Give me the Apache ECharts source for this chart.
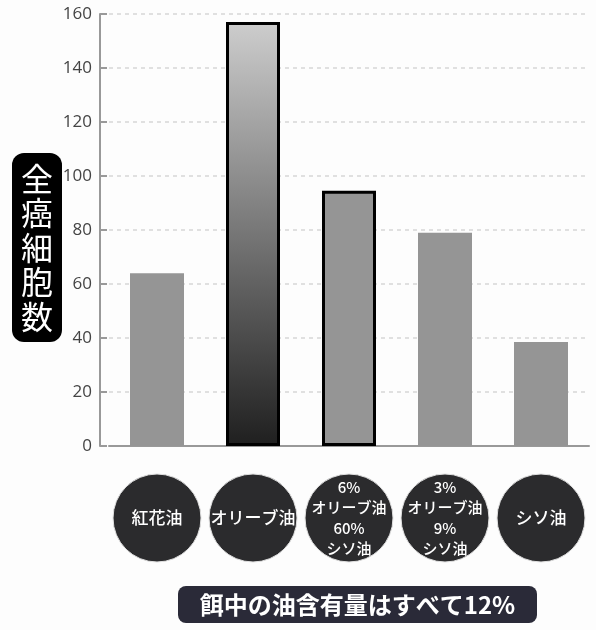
<!DOCTYPE html>
<html><head><meta charset="utf-8">
<script src="https://cdn.jsdelivr.net/npm/echarts@6/dist/echarts.min.js"></script>
<style>html,body{margin:0;padding:0;background:#fff}#c{width:596px;height:630px}</style>
</head><body><div id="c"></div>
<script>
const categories = ['紅花油', 'オリーブ油', '6%\nオリーブ油\n60%\nシソ油', '3%\nオリーブ油\n9%\nシソ油', 'シソ油'];
const cellCounts = [64, 157, 94.5, 79, 38.5];
const yTicks = { min: 0, max: 160, interval: 20 };
const yTitle = '全\n癌\n細\n胞\n数';
const footnote = '餌中の油含有量はすべて12%';

const chart = echarts.init(document.getElementById('c'));
const barStyles = [
  { color: '#959595' },
  { color: new echarts.graphic.LinearGradient(0, 0, 0, 1, [{ offset: 0, color: '#cdcdcd' }, { offset: 1, color: '#1f1f1f' }]), borderColor: '#000', borderWidth: 3 },
  { color: '#959595', borderColor: '#000', borderWidth: 3 },
  { color: '#959595' },
  { color: '#959595' }
];
const font = '"Noto Sans CJK JP", "Noto Sans", sans-serif';
chart.setOption({
  backgroundColor: '#fdfdfd',
  animation: false,
  grid: [
    { left: 109, right: 7, top: 14, bottom: 184 },
    { left: 109, right: 7, top: 460, height: 116 }
  ],
  xAxis: [
    { type: 'category', data: categories, gridIndex: 0,
      axisLine: { lineStyle: { color: '#999', width: 2 } }, axisTick: { show: false }, axisLabel: { show: false } },
    { type: 'category', data: categories, gridIndex: 1, show: false }
  ],
  yAxis: [
    { type: 'value', gridIndex: 0, min: yTicks.min, max: yTicks.max, interval: yTicks.interval, offset: 9,
      axisLine: { show: true, lineStyle: { color: '#999', width: 2 } },
      axisTick: { show: true, inside: true, length: 7, lineStyle: { color: '#999', width: 2 } },
      axisLabel: { color: '#444', fontSize: 17, fontFamily: '"Open Sans", sans-serif', margin: 8 },
      splitLine: { lineStyle: { color: '#d6d6d6', type: [4, 4], width: 1.5 } } },
    { type: 'value', gridIndex: 1, min: -1, max: 1, show: false }
  ],
  series: [
    { type: 'bar', xAxisIndex: 0, yAxisIndex: 0, barWidth: 54,
      data: cellCounts.map((v, i) => ({ value: v, itemStyle: barStyles[i] })) },
    { type: 'scatter', xAxisIndex: 1, yAxisIndex: 1, symbol: 'circle', symbolSize: 88,
      itemStyle: { color: '#2b2b2d', opacity: 1, borderColor: '#e0e0e0', borderWidth: 1 },
      label: { show: true, position: 'inside', formatter: p => p.name, color: '#fff',
        fontSize: 15, lineHeight: 20.5, fontFamily: font, fontWeight: 500, align: 'center' },
      data: categories.map(c => ({ value: 0, label: { fontSize: c.includes('\n') ? 15 : 17 } })) }
  ],
  graphic: [
    { type: 'group', left: 12, top: 153, children: [
      { type: 'rect', shape: { x: 0, y: 0, width: 50, height: 189, r: 12 }, style: { fill: '#000' } },
      { type: 'text', x: 25, y: 94.5, style: { text: yTitle, fill: '#fff', font: '400 32px ' + font,
        lineHeight: 34.5, align: 'center', verticalAlign: 'middle' } }
    ] },
    { type: 'group', left: 178, top: 586, children: [
      { type: 'rect', shape: { x: 0, y: 0, width: 359, height: 37, r: 8 }, style: { fill: '#2a2a38' } },
      { type: 'text', x: 179.5, y: 19, style: { text: footnote, fill: '#fff', font: 'bold 24px ' + font,
        align: 'center', verticalAlign: 'middle' } }
    ] }
  ]
});
</script></body></html>
